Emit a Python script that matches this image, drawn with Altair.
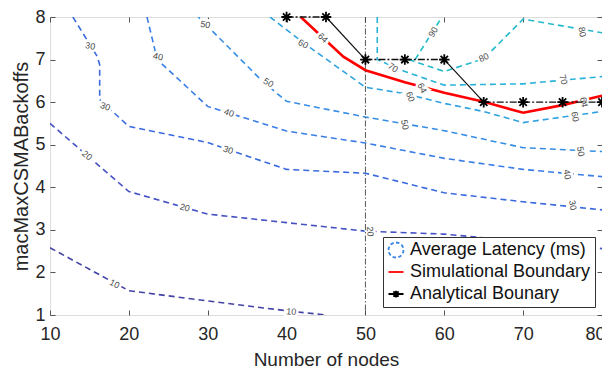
import math
import altair as alt
import pandas as pd

FONT = "Liberation Sans"

# ---------------- data ----------------
x_ticks = [10, 20, 30, 40, 50, 60, 70, 80]
y_ticks = [1, 2, 3, 4, 5, 6, 7, 8]

levels = [10, 20, 30, 40, 50, 60, 70, 80, 90]
level_colors = ["#4343a6", "#4652c4", "#3a6ade", "#3a7de6", "#368ee4",
                "#2fa1e0", "#2ab3d8", "#25b9cc", "#22bdc6"]

c10_x = [10, 20, 30, 40, 45]
c10_y = [2.58, 1.57, 1.33, 1.10, 1.0]
c20_x = [10, 20, 30, 40, 50, 60, 70, 80]
c20_y = [5.50, 3.90, 3.37, 3.17, 2.97, 2.90, 2.73, 2.56]
c30_x = [12.9, 16.0, 16.3, 16.3, 20, 30, 40, 50, 60, 70, 80]
c30_y = [8.0, 7.07, 6.88, 6.06, 5.43, 5.05, 4.42, 4.33, 3.87, 3.66, 3.47]
c40_x = [22.3, 23.6, 30, 40, 50, 60, 70, 80]
c40_y = [8.0, 7.0, 5.9, 5.32, 5.04, 4.68, 4.42, 4.25]
c50_x = [28.8, 37.0, 40, 50, 60, 70, 80]
c50_y = [8.0, 6.48, 6.02, 5.65, 5.33, 4.93, 4.84]
c60_x = [37.9, 42.1, 50, 55, 60, 65, 70, 80]
c60_y = [8.0, 7.40, 6.35, 6.20, 5.97, 5.78, 5.52, 5.78]
c70_x = [51.5, 51.5, 55, 60, 70, 80]
c70_y = [8.0, 7.0, 6.72, 6.40, 6.43, 6.60]
c80_x = [55.5, 60, 65, 70, 80]
c80_y = [7.0, 6.72, 7.02, 7.95, 7.63]
c90_x = [56.3, 59.7]
c90_y = [7.0, 8.0]
contour_xy = [(c10_x, c10_y), (c20_x, c20_y), (c30_x, c30_y), (c40_x, c40_y),
              (c50_x, c50_y), (c60_x, c60_y), (c70_x, c70_y), (c80_x, c80_y),
              (c90_x, c90_y)]

# simulational boundary (the 64 ms contour)
sim_x = [41.8, 47.2, 50, 55, 60, 65, 70, 75, 80]
sim_y = [8.0, 7.07, 6.75, 6.47, 6.22, 6.01, 5.75, 5.93, 6.15]

# analytical boundary
ab_x = [40, 45, 50, 55, 60, 65, 70, 75, 80]
ab_y = [8, 8, 7, 7, 7, 6, 6, 6, 6]

# vertical reference line
vline_x = [50]

# contour labels
lab_text = ["10", "10", "20", "20", "20", "30", "30", "30", "30",
            "40", "40", "40", "50", "50", "50", "50", "60", "60", "60",
            "64", "64", "64", "70", "70", "80", "80", "90"]
lab_x = [18.2, 40.6, 14.7, 27.1, 50.6, 15.1, 17.0, 32.6, 76.3,
         23.7, 32.7, 75.6, 29.7, 37.7, 55.0, 77.3, 42.1, 55.7, 76.6,
         44.6, 57.2, 77.7, 53.5, 75.1, 65.0, 77.5, 58.6]
lab_y = [1.73, 1.08, 4.75, 3.52, 2.96, 7.32, 5.90, 4.88, 3.58,
         7.07, 5.75, 4.30, 7.82, 6.46, 5.47, 4.84, 7.37, 6.13, 5.66,
         7.51, 6.33, 6.00, 6.81, 6.53, 7.05, 7.65, 7.65]
lab_angle = [27, 5, 40, 15, 85, 10, 20, 18, 80,
             12, 20, 80, 10, 30, 80, 80, 30, 70, 80,
             45, 65, 80, 35, 75, 335, 80, 300]

legend_labels = ["Average Latency (ms)", "Simulational Boundary", "Analytical Bounary"]
legend_colors = ["#3a86e4", "#ff0000", "#000000"]

# ---------------- tables ----------------
rows = []
for lev, (xs, ys) in zip(levels, contour_xy):
    for i, (a, b) in enumerate(zip(xs, ys)):
        rows.append({"level": lev, "i": i, "x": a, "y": b})
cdf = pd.DataFrame(rows)

sdf = pd.DataFrame({"x": sim_x, "y": sim_y, "i": range(len(sim_x))})

seg_rows = []
for k in range(len(ab_x) - 1):
    style = "flat" if ab_y[k] == ab_y[k + 1] else "slope"
    seg_rows.append({"seg": k, "x": ab_x[k], "y": ab_y[k], "style": style})
    seg_rows.append({"seg": k, "x": ab_x[k + 1], "y": ab_y[k + 1], "style": style})
adf = pd.DataFrame(seg_rows)
apts = pd.DataFrame({"x": ab_x, "y": ab_y})

ldf = pd.DataFrame({"t": lab_text, "x": lab_x, "y": lab_y, "a": lab_angle})
vdf = pd.DataFrame({"x": vline_x})
legdf = pd.DataFrame({"entry": legend_labels})

# ---------------- styling helpers ----------------
def dashed_circle(n=8, frac=0.6):
    parts = []
    step = 2 * math.pi / n
    for k in range(n):
        a0 = k * step
        a1 = a0 + step * frac
        parts.append("M%.3f,%.3fA1,1 0 0,1 %.3f,%.3f" % (
            math.cos(a0), math.sin(a0), math.cos(a1), math.sin(a1)))
    return "".join(parts)

STAR = "M-1,0L1,0M0,-1L0,1M-0.7,-0.7L0.7,0.7M-0.7,0.7L0.7,-0.7"
LEG_STAR = "M-1,0L1,0M0,-0.45L0,0.45M-0.35,-0.35L0.35,0.35M-0.35,0.35L0.35,-0.35"
legend_shapes = [dashed_circle(), "stroke", LEG_STAR]

xscale = alt.Scale(domain=[10, 80], nice=False, zero=False)
yscale = alt.Scale(domain=[1, 8], nice=False, zero=False)

bottom_axis = alt.Axis(orient="bottom", values=x_ticks, format="d", offset=-5, tickSize=5,
                       domain=False, grid=False, labelFontSize=18, labelPadding=10,
                       labelColor="#262626", tickColor="#555", labelFlush=False,
                       labelOverlap=False, labelFont=FONT,
                       labelOffset={"condition": {"test": "datum.value == 80", "value": -7},
                                    "value": 0},
                       title="Number of nodes", titleFont=FONT, titleFontSize=19,
                       titleFontWeight="normal", titleColor="#262626", titlePadding=7)
left_axis = alt.Axis(orient="left", values=y_ticks, format="d", offset=-5, tickSize=5,
                     domain=False, grid=False, labelFontSize=18, labelPadding=5,
                     labelColor="#262626", tickColor="#555", labelFlush=False,
                     labelOverlap=False, labelFont=FONT,
                     title="macMaxCSMABackoffs", titleFont=FONT, titleFontSize=20,
                     titleFontWeight="normal", titleColor="#262626", titlePadding=3)
top_axis = alt.Axis(orient="top", values=x_ticks, offset=-5, tickSize=5, domain=False,
                    grid=False, labels=False, title=None, tickColor="#555")
right_axis = alt.Axis(orient="right", values=y_ticks, offset=-5, tickSize=5, domain=False,
                      grid=False, labels=False, title=None, tickColor="#555")

# ---------------- layers ----------------
contours = alt.Chart(cdf).mark_line(strokeDash=[6, 4], strokeWidth=1.6, clip=True).encode(
    x=alt.X("x:Q", scale=xscale, axis=bottom_axis),
    y=alt.Y("y:Q", scale=yscale, axis=left_axis),
    color=alt.Color("level:O", scale=alt.Scale(domain=levels, range=level_colors), legend=None),
    order=alt.Order("i:Q"),
)

sim = alt.Chart(sdf).mark_line(color="#ff0000", strokeWidth=2.6).encode(
    x=alt.X("x:Q", scale=xscale, axis=top_axis),
    y=alt.Y("y:Q", scale=yscale, axis=right_axis),
    order=alt.Order("i:Q"),
)

halo = alt.Chart(ldf).mark_text(fontSize=9, font=FONT, color="white", stroke="white",
                                strokeWidth=5).encode(
    x=alt.X("x:Q", scale=xscale, axis=None),
    y=alt.Y("y:Q", scale=yscale, axis=None),
    text="t:N",
    angle=alt.Angle("a:Q", scale=None),
)
labels = alt.Chart(ldf).mark_text(fontSize=9, font=FONT, color="#4a4a4a").encode(
    x=alt.X("x:Q", scale=xscale, axis=None),
    y=alt.Y("y:Q", scale=yscale, axis=None),
    text="t:N",
    angle=alt.Angle("a:Q", scale=None),
)

vline = alt.Chart(vdf).mark_rule(color="#444", strokeWidth=0.9, strokeDash=[6, 2, 1.5, 2]).encode(
    x=alt.X("x:Q", scale=xscale, axis=None),
)

ab_flat = alt.Chart(adf).transform_filter("datum.style == 'flat'").mark_line(
    color="#111", strokeWidth=1.4, strokeDash=[7, 2, 2, 2]).encode(
    x=alt.X("x:Q", scale=xscale, axis=None),
    y=alt.Y("y:Q", scale=yscale, axis=None),
    detail="seg:N",
)
ab_slope = alt.Chart(adf).transform_filter("datum.style == 'slope'").mark_line(
    color="#111", strokeWidth=1.2).encode(
    x=alt.X("x:Q", scale=xscale, axis=None),
    y=alt.Y("y:Q", scale=yscale, axis=None),
    detail="seg:N",
)
ab_pts = alt.Chart(apts).mark_point(shape=STAR, filled=False, color="#000", size=110,
                                    strokeWidth=1.8, opacity=1).encode(
    x=alt.X("x:Q", scale=xscale, axis=None),
    y=alt.Y("y:Q", scale=yscale, axis=None),
)

leg = alt.Legend(title=None, orient="none", legendX=333, legendY=220, direction="vertical",
                 strokeColor="#333", fillColor="white", padding=4, cornerRadius=0,
                 labelFontSize=18, labelFont=FONT, labelColor="#111", labelLimit=400,
                 symbolSize=225, symbolStrokeWidth=1.8, labelOffset=5, rowPadding=1,
                 gridAlign="all")
legend_layer = alt.Chart(legdf).transform_filter("false").mark_point(filled=False, opacity=1).encode(
    color=alt.Color("entry:N", scale=alt.Scale(domain=legend_labels, range=legend_colors), legend=leg),
    shape=alt.Shape("entry:N", scale=alt.Scale(domain=legend_labels, range=legend_shapes), legend=leg),
)

chart = alt.layer(contours, sim, halo, labels, vline, ab_flat, ab_slope, ab_pts, legend_layer).resolve_scale(
    color="independent", shape="independent"
).resolve_axis(x="independent", y="independent").properties(
    width=552, height=298,
    autosize=alt.AutoSizeParams(type="none"),
    padding={"left": 42, "top": 9, "right": 0, "bottom": 60},
).configure_view(stroke="#555", strokeWidth=1).configure(font=FONT)

chart.save("out.html", embed_options={"renderer": "svg", "actions": False})
